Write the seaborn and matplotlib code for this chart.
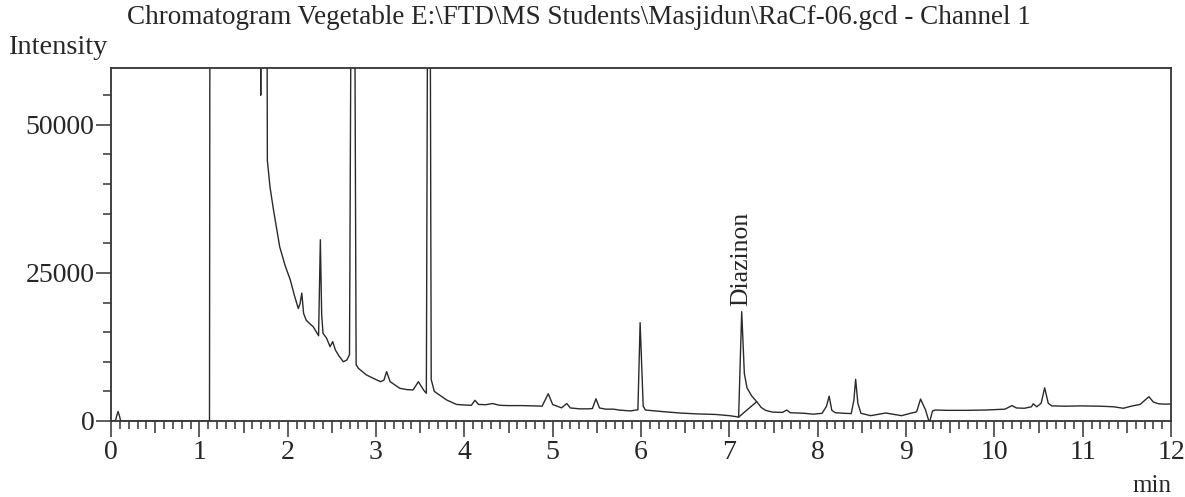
import matplotlib
matplotlib.use("Agg")
from matplotlib import pyplot as plt
from matplotlib.ticker import MultipleLocator
import seaborn as sns

title = "Chromatogram Vegetable E:\\FTD\\MS Students\\Masjidun\\RaCf-06.gcd - Channel 1"

# retention time (min) and intensity;
# values above the axis top are off-scale (solvent) peaks, clipped by the axes
time_min = [
    0.00, 0.05, 0.065, 0.08, 0.095, 0.11, 1.115, 1.125, 1.685, 1.695,
    1.705, 1.755, 1.77, 1.80, 1.84, 1.91, 1.97, 2.03, 2.08, 2.12,
    2.14, 2.16, 2.18, 2.21, 2.29, 2.35, 2.37, 2.385, 2.40, 2.44,
    2.48, 2.51, 2.54, 2.58, 2.63, 2.67, 2.70, 2.74, 2.775, 2.80,
    2.89, 2.97, 3.05, 3.09, 3.12, 3.16, 3.27, 3.35, 3.42, 3.48,
    3.54, 3.57, 3.60, 3.625, 3.66, 3.69, 3.80, 3.91, 4.00, 4.08,
    4.12, 4.16, 4.24, 4.32, 4.40, 4.50, 4.65, 4.80, 4.88, 4.95,
    5.00, 5.10, 5.16, 5.20, 5.31, 5.40, 5.45, 5.49, 5.53, 5.60,
    5.69, 5.75, 5.88, 5.965, 5.99, 6.025, 6.05, 6.25, 6.44, 6.63,
    6.85, 7.00, 7.07, 7.105, 7.14, 7.17, 7.20, 7.25, 7.31, 7.36,
    7.41, 7.49, 7.60, 7.65, 7.69, 7.85, 7.95, 8.05, 8.10, 8.13,
    8.16, 8.20, 8.30, 8.38, 8.41, 8.43, 8.455, 8.49, 8.60, 8.77,
    8.95, 9.05, 9.12, 9.165, 9.22, 9.265, 9.30, 9.33, 9.46, 9.68,
    9.90, 10.05, 10.12, 10.20, 10.25, 10.34, 10.42, 10.44, 10.48, 10.53,
    10.57, 10.61, 10.65, 10.81, 10.98, 11.20, 11.35, 11.46, 11.55, 11.65,
    11.75, 11.80, 11.86, 11.93, 12.00,
]
intensity = [
    0, 0, 900, 1600, 900, 0, 0, 150000, 150000, 55000,
    150000, 150000, 44000, 39500, 35600, 29400, 26300, 23800, 21000, 19000,
    19800, 21600, 18200, 17000, 15900, 14400, 30600, 18000, 14800, 14000,
    12550, 13400, 12000, 11000, 10000, 10300, 11200, 150000, 9500, 8900,
    7800, 7200, 6640, 6900, 8330, 6640, 5520, 5300, 5240, 6640,
    5200, 4680, 150000, 7000, 5000, 4680, 3550, 2800, 2700, 2650,
    3500, 2800, 2750, 2950, 2650, 2600, 2600, 2550, 2500, 4600,
    2780, 2220, 2950, 2200, 2050, 2050, 2100, 3750, 2200, 2000,
    2000, 1850, 1700, 1900, 16600, 2500, 1850, 1580, 1350, 1200,
    1100, 900, 750, 650, 18460, 8000, 5600, 4300, 3260, 2300,
    1800, 1500, 1450, 1850, 1400, 1300, 1150, 1300, 2500, 4200,
    1800, 1400, 1300, 1250, 3500, 7040, 3000, 1300, 900, 1350,
    900, 1300, 1550, 3700, 1900, -300, 1700, 1850, 1800, 1800,
    1850, 1950, 2000, 2600, 2200, 2150, 2400, 2900, 2400, 3000,
    5600, 3000, 2550, 2500, 2550, 2500, 2400, 2150, 2500, 2800,
    4100, 3200, 2900, 2850, 2870,
]

# integration baseline under the Diazinon peak
base_time = [7.105, 7.31]
base_intensity = [650, 3260]

peak_name = "Diazinon"
peak_time = 7.14
peak_height = 18460

sns.set_style("ticks")
plt.rcParams['font.family'] = ['Liberation Serif', 'DejaVu Serif']

fig = plt.figure(figsize=(11.85, 4.97), dpi=100)
ax = fig.add_axes([111 / 1185, 1 - 421 / 497, 1060 / 1185, 353 / 497])

sns.lineplot(x=time_min, y=intensity, ax=ax, sort=False, estimator=None,
             color="#2a2a2a", linewidth=1.0)
sns.lineplot(x=base_time, y=base_intensity, ax=ax, sort=False, estimator=None,
             color="#2a2a2a", linewidth=1.0)

ax.annotate(peak_name, (peak_time, peak_height), xytext=(0, 4),
            textcoords='offset points', rotation=90, ha='center', va='bottom',
            fontsize=18.5)

ax.set_xlim(0, 12)
ax.set_ylim(0, 59600)
ax.set_xlabel("")
ax.set_ylabel("")

ax.xaxis.set_major_locator(MultipleLocator(1))
ax.xaxis.set_minor_locator(MultipleLocator(0.1))
ax.yaxis.set_major_locator(MultipleLocator(25000))
ax.yaxis.set_minor_locator(MultipleLocator(5000))

for s in ax.spines.values():
    s.set_color("#333333")
    s.set_linewidth(1.3)

ax.tick_params(axis='x', which='major', length=11.5, width=1.1, labelsize=20, pad=2, color="#333333")
ax.tick_params(axis='x', which='minor', length=5.5, width=1.1, color="#333333")
ax.tick_params(axis='y', which='major', length=11, width=1.1, labelsize=20, pad=1, color="#333333")
ax.tick_params(axis='y', which='minor', length=6, width=1.1, color="#333333")

# half-minute ticks are a bit longer
for tick, loc in zip(ax.xaxis.get_minor_ticks(), ax.xaxis.get_minorticklocs()):
    if round(loc * 10) % 10 == 5:
        tick.tick1line.set_markersize(8.5)

fig.text(127 / 1185, 1 - 24 / 497, title, fontsize=19.5, va='baseline', ha='left')
fig.text(8 / 1185, 1 - 54 / 497, "Intensity", fontsize=20.5, va='baseline', ha='left')
fig.text(1171 / 1185, 1 - 492 / 497, "min", fontsize=18, va='baseline', ha='right')

fig.savefig("out.png", dpi=100)
